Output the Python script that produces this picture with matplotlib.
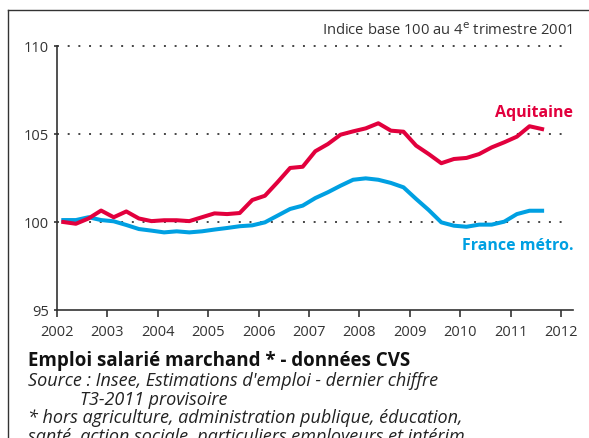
import numpy as np
import matplotlib.pyplot as plt
from matplotlib.lines import Line2D

plt.rcParams['font.family'] = ['Open Sans', 'DejaVu Sans']

W, H = 589, 439

# quarterly index, base 100 = T4-2001, from T1-2002 to T3-2011
years = [2002, 2003, 2004, 2005, 2006, 2007, 2008, 2009, 2010, 2011]
aquitaine = [100.0, 99.9, 100.2, 100.65,
             100.27, 100.6, 100.2, 100.05,
             100.1, 100.1, 100.05, 100.27,
             100.49, 100.45, 100.51, 101.25,
             101.49, 102.26, 103.07, 103.14,
             104.02, 104.43, 104.96, 105.15,
             105.32, 105.61, 105.19, 105.13,
             104.34, 103.86, 103.34, 103.58,
             103.64, 103.86, 104.24, 104.53,
             104.85, 105.44, 105.28]
france = [100.11, 100.11, 100.27, 100.11,
          100.04, 99.83, 99.6, 99.51,
          99.41, 99.47, 99.41, 99.47,
          99.57, 99.66, 99.76, 99.81,
          99.98, 100.36, 100.74, 100.93,
          101.36, 101.69, 102.06, 102.4,
          102.48, 102.4, 102.22, 101.97,
          101.31, 100.68, 99.98, 99.79,
          99.73, 99.85, 99.85, 100.02,
          100.45, 100.64, 100.64]
yticks = [95, 100, 105, 110]
xticks = list(range(2002, 2013))

# each quarter drawn at its middle
quarters = [(y, q) for y in years for q in range(1, 5)][:len(aquitaine)]
xpos = [y + (q - 0.5) / 4 for y, q in quarters]

red = '#e2003d'
blue = '#00a0e2'
grey = '#333333'

fig = plt.figure(figsize=(W / 100, H / 100), dpi=100)
ax = fig.add_axes([57 / W, (H - 311) / H, (573 - 57) / W, (311 - 47) / H])

ax.hlines([100, 105, 110], 2002, 2012.12, colors='#444444', lw=1.4,
          linestyles=(0, (1, 4.5)), clip_on=False, zorder=1)
ax.plot(xpos, france, color=blue, lw=2.9, solid_joinstyle='round', zorder=3)
ax.plot(xpos, aquitaine, color=red, lw=2.9, solid_joinstyle='round', zorder=3)

ax.set_xlim(2002, 2012 + 12 / 50.4)
ax.set_ylim(95, 110)
ax.set_xticks(xticks)
ax.set_yticks(yticks)
for s in ['top', 'right']:
    ax.spines[s].set_visible(False)
for s in ['left', 'bottom']:
    ax.spines[s].set_color(grey)
    ax.spines[s].set_linewidth(1.2)
ax.tick_params(axis='x', length=5, width=1.2, color=grey, pad=5,
               labelsize=10.5, labelcolor=grey)
ax.tick_params(axis='y', length=2, width=1.2, color=grey, pad=4,
               labelsize=10.5, labelcolor=grey)

ax.text(573 / W, 1 - 113 / H, 'Aquitaine', transform=fig.transFigure,
        ha='right', va='center', color=red, fontsize=11.5, fontweight='bold')
ax.text(573 / W, 1 - 246 / H, 'France métro.', transform=fig.transFigure,
        ha='right', va='center', color=blue, fontsize=11.5, fontweight='bold')

fig.text(573 / W, 1 - 31 / H, 'Indice base 100 au 4$^{\\mathrm{e}}$ trimestre 2001',
         ha='right', va='center', color=grey, fontsize=10.6)

# frame around the chart
fig.add_artist(Line2D([8 / W, 8 / W], [0, 1 - 11 / H], color=grey, lw=1))
fig.add_artist(Line2D([8 / W, 1], [1 - 11 / H, 1 - 11 / H], color=grey, lw=1))

fig.text(28 / W, 1 - 366 / H, 'Emploi salarié marchand * - données CVS',
         ha='left', va='baseline', color='#111111', fontsize=13.5, fontweight='bold')
notes = [(28, 386, "Source : Insee, Estimations d'emploi - dernier chiffre"),
         (80, 405, "T3-2011 provisoire"),
         (28, 423, "* hors agriculture, administration publique, éducation,"),
         (28, 442, "santé, action sociale, particuliers employeurs et intérim")]
for x0, y0, line in notes:
    fig.text(x0 / W, 1 - y0 / H, line, ha='left', va='baseline',
             color='#222222', fontsize=13, fontstyle='italic')

fig.savefig('out.png', dpi=100)
